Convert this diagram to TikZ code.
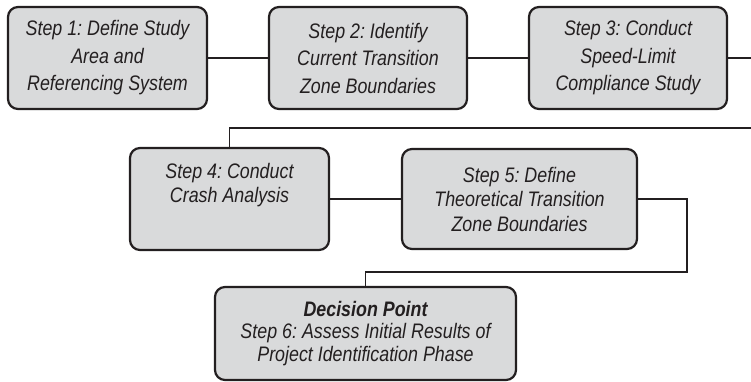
\documentclass[tikz,border=0pt]{standalone}
\usepackage{fontspec}
\setmainfont{Liberation Sans}[FakeStretch=0.85]
\frenchspacing
\usetikzlibrary{positioning}
\definecolor{boxfill}{HTML}{D9DADB}
\definecolor{ink}{HTML}{231F20}
\tikzset{
  stepbox/.style={draw=ink, fill=boxfill, line width=2.2pt, rounded corners=10pt,
    align=center, inner sep=0pt, font=\itshape\fontsize{21}{27.5}\selectfont,
    text=ink},
  link/.style={draw=ink, line width=1.5pt},
}
\begin{document}
\begin{tikzpicture}[x=1pt,y=-1pt]
\useasboundingbox (0,0) rectangle (751,381);
\node[stepbox, minimum width=199pt, minimum height=102pt] (b1) at (107.5,58)
  {Step 1: Define Study\\Area and\\Referencing System};
\node[stepbox, minimum width=198pt, minimum height=102pt] (b2) at (368,58)
  {Step 2: Identify\\Current Transition\\Zone Boundaries};
\node[stepbox, minimum width=198pt, minimum height=102pt] (b3) at (628,58)
  {Step 3: Conduct\\Speed-Limit\\Compliance Study};
\node[stepbox, minimum width=199pt, minimum height=102pt, font=\itshape\fontsize{21}{24.5}\selectfont] (b4) at (229.5,199)
  {Step 4: Conduct\\Crash Analysis\\\strut};
\node[stepbox, minimum width=235pt, minimum height=100pt, font=\itshape\fontsize{21}{24.5}\selectfont] (b5) at (519.5,199)
  {Step 5: Define\\Theoretical Transition\\Zone Boundaries};
\node[stepbox, minimum width=301pt, minimum height=93pt, font=\itshape\fontsize{21}{22.5}\selectfont] (b6) at (365.5,333.5)
  {\textbf{Decision Point}\\Step 6: Assess Initial Results of\\Project Identification Phase};
\coordinate (r1) at (751,58);
\coordinate (r2) at (751,128);
\coordinate (r3) at (229.5,128);
\coordinate (c1) at (687,199);
\coordinate (c2) at (687,272);
\coordinate (c3) at (365.5,272);
\draw[link] (b1.east) -- (b2.west);
\draw[link] (b2.east) -- (b3.west);
\draw[link] (b3.east) -- (r1);
\draw[link] (r2) -- (r3) -- (b4.north);
\draw[link] (b4.east) -- (b5.west);
\draw[link] (b5.east) -- (c1) -- (c2) -- (c3) -- (b6.north);
\end{tikzpicture}
\end{document}
